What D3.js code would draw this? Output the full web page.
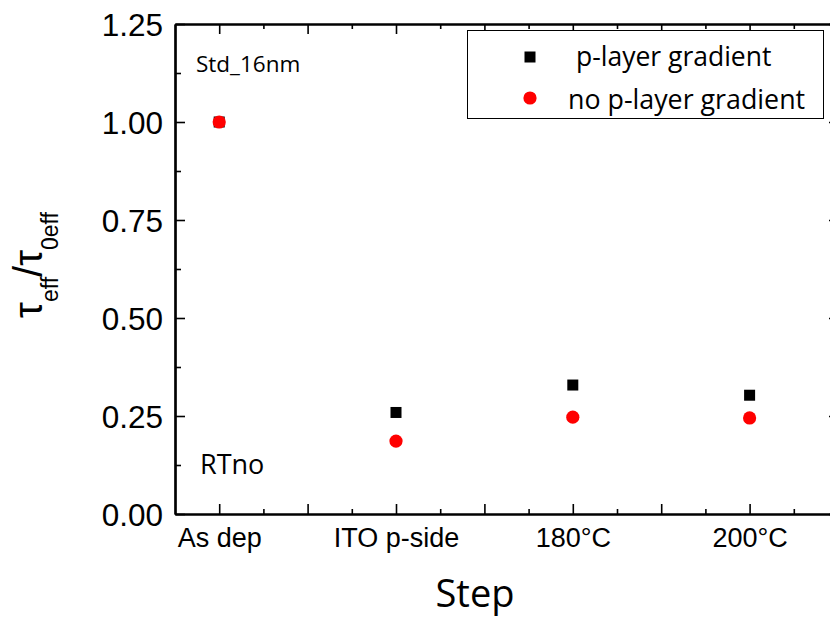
<!DOCTYPE html>
<html>
<head>
<meta charset="utf-8">
<script src="https://cdn.jsdelivr.net/npm/d3@7"></script>
<style>
  body { margin: 0; background: #fff; }
  svg { display: block; }
</style>
</head>
<body>
<svg id="chart" width="830" height="621"></svg>
<script>
// Process steps and normalized effective lifetime for the two stacks
const steps = ["As dep", "ITO p-side", "180°C", "200°C"];
const stepPos = [1, 2, 3, 4];
const gradientVals = [1.00, 0.259, 0.329, 0.303];
const noGradientVals = [1.00, 0.186, 0.247, 0.245];
const yTicks = [0.00, 0.25, 0.50, 0.75, 1.00, 1.25];
const seriesNames = ["p-layer gradient", "no p-layer gradient"];

const svg = d3.select("#chart");
const margin = { left: 175, top: 24, right: -8, bottom: 107 };
const W = 830, H = 621;

const x = d3.scaleLinear().domain([0.75, 4.5]).range([margin.left, W - margin.right]);
const y = d3.scaleLinear().domain([0, 1.25]).range([H - margin.bottom, margin.top]);

const tickFont = "'Liberation Sans', Arial, sans-serif";
const textFont = "'Open Sans', sans-serif";

// major ticks every 0.5 and minor ticks between them on x; every 0.125 on y
const xMajor = d3.range(1, 4.51, 0.5);
const xMinor = d3.range(1.25, 4.5, 0.5);
const yMinor = d3.range(0.125, 1.25, 0.25);

const plot = svg.append("g");

// bottom axis
const axBottom = plot.append("g").attr("transform", `translate(0,${y(0)})`)
  .call(d3.axisBottom(x).tickValues(xMajor).tickSize(-10).tickSizeOuter(0)
    .tickFormat(d => { const i = stepPos.indexOf(d); return i >= 0 ? steps[i] : ""; }));
axBottom.append("g").call(d3.axisBottom(x).tickValues(xMinor).tickSize(-5).tickSizeOuter(0).tickFormat(""));

// top axis
const axTop = plot.append("g").attr("transform", `translate(0,${y(1.25)})`)
  .call(d3.axisTop(x).tickValues(xMajor).tickSize(-10).tickSizeOuter(0).tickFormat(""));
axTop.append("g").call(d3.axisTop(x).tickValues(xMinor).tickSize(-5).tickSizeOuter(0).tickFormat(""));

// left axis
const axLeft = plot.append("g").attr("transform", `translate(${x(0.75)},0)`)
  .call(d3.axisLeft(y).tickValues(yTicks).tickSize(-10).tickSizeOuter(0).tickFormat(d3.format(".2f")));
axLeft.append("g").call(d3.axisLeft(y).tickValues(yMinor).tickSize(-6).tickSizeOuter(0).tickFormat(""));

// right axis
const axRight = plot.append("g").attr("transform", `translate(${x(4.5)},0)`)
  .call(d3.axisRight(y).tickValues(yTicks).tickSize(-9).tickSizeOuter(0).tickFormat(""));
axRight.append("g").call(d3.axisRight(y).tickValues(yMinor).tickSize(-5).tickSizeOuter(0).tickFormat(""));

plot.selectAll(".domain").attr("stroke", "#000").attr("stroke-width", 2.2);
plot.selectAll(".tick line").attr("stroke", "#000").attr("stroke-width", 1.6);

axBottom.selectAll(".tick text")
  .attr("font-family", tickFont).attr("font-size", 27).attr("fill", "#000")
  .attr("y", 0).attr("dy", 33);
axLeft.selectAll(".tick text")
  .attr("font-family", tickFont).attr("font-size", 31.5).attr("fill", "#000").attr("x", -12).attr("dy", "0.36em");

// in-plot annotations
svg.append("text").attr("x", 196).attr("y", 72)
  .attr("font-family", textFont).attr("font-size", 22.5).text("Std_16nm");
svg.append("text").attr("x", 200).attr("y", 474)
  .attr("font-family", textFont).attr("font-size", 27).text("RTno");

// data points: gradient squares first, red circles on top
const sq = 11;
svg.append("g").selectAll("rect").data(gradientVals).join("rect")
  .attr("x", (d, i) => x(stepPos[i]) - sq / 2)
  .attr("y", d => y(d) - sq / 2)
  .attr("width", sq).attr("height", sq).attr("fill", "#000");
svg.append("g").selectAll("circle").data(noGradientVals).join("circle")
  .attr("cx", (d, i) => x(stepPos[i]))
  .attr("cy", d => y(d))
  .attr("r", 6.6).attr("fill", "#ff0000");

// legend
const lg = svg.append("g");
lg.append("rect").attr("x", 467.5).attr("y", 30.5).attr("width", 356).attr("height", 88)
  .attr("fill", "#fff").attr("stroke", "#000").attr("stroke-width", 1);
lg.append("rect").attr("x", 530 - 5.5).attr("y", 57 - 5.5).attr("width", 11).attr("height", 11).attr("fill", "#000");
lg.append("circle").attr("cx", 530).attr("cy", 98).attr("r", 6.6).attr("fill", "#ff0000");
lg.append("text").attr("x", 576).attr("y", 66).attr("font-family", textFont).attr("font-size", 26.5)
  .text(seriesNames[0]);
lg.append("text").attr("x", 568).attr("y", 109).attr("font-family", textFont).attr("font-size", 26.8)
  .text(seriesNames[1]);

// axis titles
svg.append("text").attr("x", 475).attr("y", 607).attr("text-anchor", "middle")
  .attr("font-family", textFont).attr("font-size", 38).text("Step");

const yt = svg.append("text")
  .attr("transform", "translate(42,265) rotate(-90)")
  .attr("text-anchor", "middle")
  .attr("font-family", tickFont).attr("font-size", 40);
yt.append("tspan").text("τ");
yt.append("tspan").attr("font-size", 23).attr("dy", 16).text("eff");
yt.append("tspan").attr("dy", -16).text("/τ");
yt.append("tspan").attr("font-size", 23).attr("dy", 16).text("0eff");
</script>
</body>
</html>
